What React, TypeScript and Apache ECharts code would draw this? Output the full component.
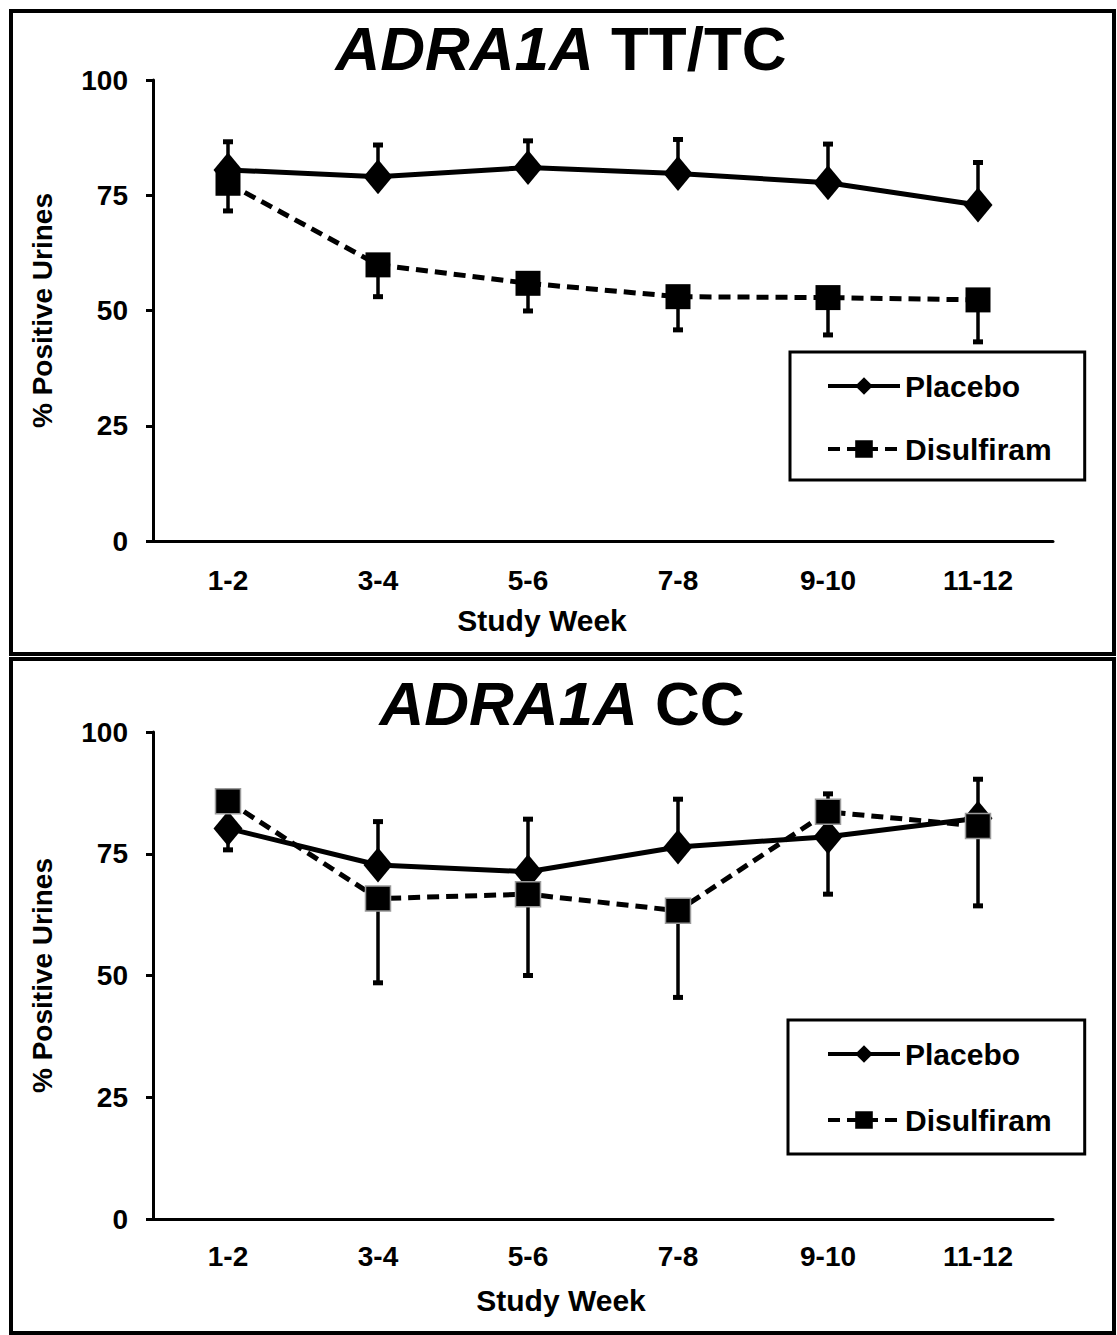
import React, { useEffect, useRef } from "react";
import * as echarts from "echarts";

const categories = ["1-2", "3-4", "5-6", "7-8", "9-10", "11-12"];
const yTicks = [0, 25, 50, 75, 100];

// Top panel: ADRA1A TT/TC
const topPlacebo = [80.5, 79.0, 81.0, 79.7, 77.7, 72.9];
const topPlaceboHigh = [86.6, 85.9, 86.8, 87.1, 86.1, 82.1];
const topDisulfiram = [77.6, 59.9, 55.9, 53.0, 52.8, 52.3];
const topDisulfiramLow = [71.6, 53.0, 49.9, 45.8, 44.7, 43.2];

// Bottom panel: ADRA1A CC
const botPlacebo = [80.2, 72.7, 71.3, 76.4, 78.5, 82.3];
const botPlaceboHigh = [null, 81.6, 82.1, 86.2, null, 90.3];
const botPlaceboLow = [75.8, null, null, null, 66.7, null];
const botDisulfiram = [85.8, 65.8, 66.7, 63.3, 83.6, 80.7];
const botDisulfiramHigh = [null, null, null, null, 87.3, null];
const botDisulfiramLow = [null, 48.5, 50.0, 45.5, null, 64.3];

const FONT = "'Liberation Sans', Arial, sans-serif";

function errData(mean: number[], ends: (number | null)[]) {
  const out: number[][] = [];
  ends.forEach((e, i) => {
    if (e !== null && e !== undefined) out.push([i, mean[i], e]);
  });
  return out;
}

function renderErr(params: any, api: any) {
  const i = api.value(0);
  const m = api.coord([i, api.value(1)]);
  const e = api.coord([i, api.value(2)]);
  return {
    type: "group",
    children: [
      {
        type: "line",
        shape: { x1: m[0], y1: m[1], x2: e[0], y2: e[1] },
        style: { stroke: "#000", lineWidth: 3.5 },
      },
      {
        type: "rect",
        shape: { x: e[0] - 5, y: e[1] - 2.5, width: 10, height: 5 },
        style: { fill: "#000" },
      },
    ],
  };
}

export default function App() {
  const ref = useRef<HTMLDivElement>(null);
  useEffect(() => {
    if (!ref.current) return;
    const chart = echarts.init(ref.current, undefined, { renderer: "svg" });
    const grids = [
      { left: 153, top: 80, width: 900, height: 461 },
      { left: 153, top: 732, width: 900, height: 487 },
    ];
    const mkX = (gi: number, shift: number, gap: number, margin: number) => ({
      type: "category",
      gridIndex: gi,
      data: categories,
      boundaryGap: true,
      axisLine: { lineStyle: { color: "#000", width: 3 } },
      axisTick: { alignWithLabel: true, length: 6, lineStyle: { color: "#000", width: 3 } },
      axisLabel: { color: "#000", fontSize: 28, fontWeight: "bold", fontFamily: FONT, margin },
      splitLine: { show: false },
      name: "Study Week",
      nameLocation: "middle",
      nameGap: gap,
      nameTextStyle: {
        color: "#000",
        fontSize: 30,
        fontWeight: "bold",
        fontFamily: FONT,
        padding: [0, shift * 2, 0, 0],
      },
    });
    const mkY = (gi: number) => ({
      type: "value",
      gridIndex: gi,
      min: 0,
      max: 100,
      interval: 25,
      axisLine: { show: true, lineStyle: { color: "#000", width: 3 } },
      axisTick: { show: true, length: 7, lineStyle: { color: "#000", width: 3 } },
      axisLabel: {
        color: "#000",
        fontSize: 28,
        fontWeight: "bold",
        fontFamily: FONT,
        margin: 25,
        formatter: (v: number) => (yTicks.includes(v) ? String(v) : ""),
      },
      splitLine: { show: false },
      name: "% Positive Urines",
      nameLocation: "middle",
      nameRotate: 90,
      nameGap: 97,
      nameTextStyle: { color: "#000", fontSize: 28, fontWeight: "bold", fontFamily: FONT },
    });

    const lineSeries = (
      name: string,
      gi: number,
      data: number[],
      dashed: boolean,
      border: boolean
    ) => ({
      type: "line",
      name,
      xAxisIndex: gi,
      yAxisIndex: gi,
      data,
      z: 3,
      symbol: dashed ? "rect" : "diamond",
      symbolSize: dashed ? 25 : [29, 35],
      lineStyle: { color: "#000", width: 5, type: dashed ? [12, 7] : "solid" },
      itemStyle: {
        color: "#000",
        borderColor: border ? "#9a9a9a" : "#000",
        borderWidth: border ? 1.5 : 0,
      },
    });
    const errSeries = (name: string, gi: number, data: number[][]) => ({
      type: "custom",
      name,
      xAxisIndex: gi,
      yAxisIndex: gi,
      data,
      z: 1,
      renderItem: renderErr,
      encode: { x: 0, y: [1, 2] },
    });

    const legendBase = {
      orient: "vertical",
      data: ["Placebo", "Disulfiram"],
      itemWidth: 72,
      itemHeight: 22,
      itemGap: 33,
      borderColor: "#000",
      borderWidth: 3,
      borderRadius: 0,
      lineStyle: { width: 4 },
      textStyle: { color: "#000", fontSize: 30, fontWeight: "bold", fontFamily: FONT, lineHeight: 30 },
      selectedMode: false,
    };

    const option: any = {
      animation: false,
      backgroundColor: "#fff",
      grid: grids,
      xAxis: [mkX(0, 61, 64, 25), mkX(1, 42, 66, 23)],
      yAxis: [mkY(0), mkY(1)],
      legend: [
        { ...legendBase, left: 790, top: 352, padding: [19, 33, 16, 36] },
        { ...legendBase, left: 788, top: 1020, padding: [19, 33, 19, 38], itemGap: 36 },
      ],
      series: [
        errSeries("PlaceboErrTop", 0, errData(topPlacebo, topPlaceboHigh)),
        errSeries("DisulfiramErrTop", 0, errData(topDisulfiram, topDisulfiramLow)),
        lineSeries("Placebo", 0, topPlacebo, false, false),
        lineSeries("Disulfiram", 0, topDisulfiram, true, false),
        errSeries("PlaceboErrHighBot", 1, errData(botPlacebo, botPlaceboHigh)),
        errSeries("PlaceboErrLowBot", 1, errData(botPlacebo, botPlaceboLow)),
        errSeries("DisulfiramErrHighBot", 1, errData(botDisulfiram, botDisulfiramHigh)),
        errSeries("DisulfiramErrLowBot", 1, errData(botDisulfiram, botDisulfiramLow)),
        lineSeries("Placebo", 1, botPlacebo, false, false),
        lineSeries("Disulfiram", 1, botDisulfiram, true, true),
      ],
      graphic: [
        {
          type: "rect",
          shape: { x: 11, y: 11, width: 1103, height: 643 },
          style: { fill: "none", stroke: "#000", lineWidth: 4 },
          silent: true,
        },
        {
          type: "rect",
          shape: { x: 11, y: 659, width: 1103, height: 674 },
          style: { fill: "none", stroke: "#000", lineWidth: 4 },
          silent: true,
        },
        {
          type: "text",
          x: 561,
          y: 48,
          style: {
            text: "{i|ADRA1A} TT/TC",
            align: "center",
            verticalAlign: "middle",
            fontSize: 62,
            fontWeight: "bold",
            fontFamily: FONT,
            fill: "#000",
            rich: { i: { fontStyle: "italic", fontSize: 62, fontWeight: "bold", fontFamily: FONT } },
          },
        },
        {
          type: "text",
          x: 562,
          y: 703,
          style: {
            text: "{i|ADRA1A} CC",
            align: "center",
            verticalAlign: "middle",
            fontSize: 62,
            fontWeight: "bold",
            fontFamily: FONT,
            fill: "#000",
            rich: { i: { fontStyle: "italic", fontSize: 62, fontWeight: "bold", fontFamily: FONT } },
          },
        },
      ],
    };
    chart.setOption(option);
    return () => chart.dispose();
  }, []);
  return (
    <div
      ref={ref}
      style={{ position: "absolute", left: 0, top: 0, width: 1117, height: 1335, background: "#fff" }}
    />
  );
}
